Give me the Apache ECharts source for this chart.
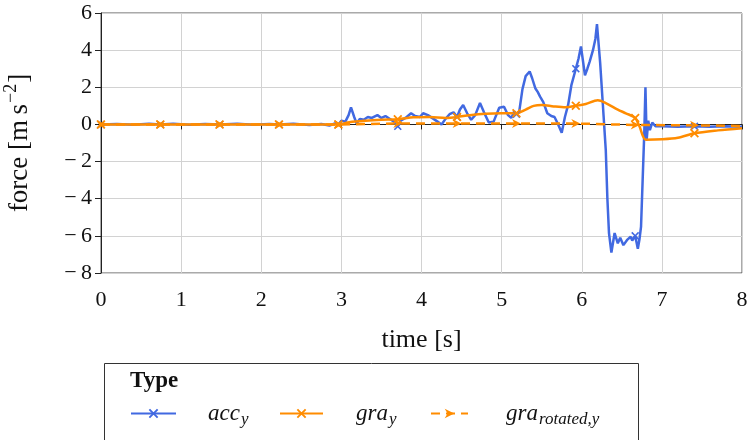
<!DOCTYPE html>
<html>
<head>
<meta charset="utf-8">
<script src="https://cdn.jsdelivr.net/npm/echarts@6/dist/echarts.min.js"></script>
<style>
  html, body { margin: 0; padding: 0; background: #fff; }
  #chart { width: 749px; height: 440px; }
</style>
</head>
<body>
<div id="chart"></div>
<script>
// Sample times where a marker is drawn on every series
const markerTimes = [0, 0.741, 1.481, 2.222, 2.963, 3.704, 4.444, 5.185, 5.926, 6.667, 7.407];

// acc_y : measured acceleration (y component)
const accTime = [0, 0.2, 0.4, 0.6, 0.741, 0.9, 1.1, 1.3, 1.481, 1.7, 1.9, 2.1, 2.222, 2.4, 2.6, 2.75, 2.85, 2.92, 2.963,
  3.0, 3.05, 3.09, 3.12, 3.16, 3.19, 3.23, 3.28, 3.33, 3.38, 3.45, 3.5, 3.55, 3.62, 3.67, 3.704, 3.74, 3.8, 3.87, 3.92, 3.98,
  4.02, 4.08, 4.15, 4.2, 4.25, 4.3, 4.35, 4.4, 4.444, 4.48, 4.52, 4.57, 4.62, 4.67, 4.73, 4.78, 4.84, 4.9, 4.97,
  5.03, 5.08, 5.12, 5.16, 5.185, 5.22, 5.26, 5.3, 5.35, 5.38, 5.42, 5.45, 5.48, 5.52, 5.57, 5.62, 5.66, 5.7, 5.75, 5.79,
  5.83, 5.87, 5.926, 5.96, 5.99, 6.04, 6.07, 6.1, 6.14, 6.17, 6.19, 6.23, 6.26, 6.3, 6.32, 6.34, 6.37, 6.41, 6.45,
  6.48, 6.52, 6.57, 6.61, 6.63, 6.667, 6.7, 6.72, 6.74, 6.76, 6.78, 6.795, 6.81, 6.83, 6.85, 6.88, 6.92, 7.0, 7.2,
  7.407, 7.6, 7.8, 8.0];
const accY = [0, 0.02, -0.02, 0.03, 0, 0.03, -0.02, 0.02, 0, 0.03, -0.02, 0.02, 0, 0.03, -0.03, 0.02, -0.06, 0.05, 0,
  0.2, 0.15, 0.5, 0.92, 0.4, 0.05, 0.3, 0.25, 0.4, 0.35, 0.5, 0.35, 0.45, 0.25, 0.1, -0.1, 0.2, 0.35, 0.6, 0.45, 0.4,
  0.6, 0.5, 0.3, 0.15, 0.0, 0.3, 0.55, 0.65, 0.4, 0.8, 1.05, 0.6, 0.25, 0.5, 1.15, 0.65, 0.1, 0.15, 0.9,
  0.95, 0.5, 0.35, 0.7, 0.55, 0.7, 1.9, 2.6, 2.85, 2.5, 1.95, 1.75, 1.5, 1.2, 0.6, 0.45, 0.4, 0.05, -0.45, 0.4,
  1.05, 2.1, 3.0, 3.55, 4.2, 2.65, 3.0, 3.4, 4.0, 4.6, 5.4, 3.3, 1.3, -1.4, -4.0, -5.85, -6.9, -5.85, -6.4,
  -6.1, -6.5, -6.2, -6.05, -6.25, -6.0, -6.7, -6.2, -5.5, -3.0, -0.5, 2.0, -0.85, 0.2, -0.3, 0.1, -0.1, -0.1, -0.12,
  -0.1, -0.12, -0.1, -0.12];

// gra_y : gravity estimate (y component)
const graTime = [0, 0.741, 1.481, 2.222, 2.963, 3.1, 3.3, 3.5, 3.704, 3.9, 4.1, 4.3, 4.444, 4.6, 4.8, 5.0, 5.185,
  5.3, 5.4, 5.5, 5.65, 5.8, 5.926, 6.05, 6.2, 6.3, 6.45, 6.55, 6.667, 6.72, 6.8, 7.0, 7.2, 7.407, 7.7, 8.0];
const graY = [0, 0, 0, 0, 0, 0.12, 0.2, 0.25, 0.28, 0.38, 0.4, 0.35, 0.4, 0.5, 0.58, 0.6, 0.6,
  0.8, 1.0, 1.05, 0.97, 0.92, 1.0, 1.1, 1.3, 1.15, 0.8, 0.6, 0.35, -0.1, -0.82, -0.8, -0.72, -0.48, -0.32, -0.2];

// gra_rotated,y : gravity rotated into the device frame
const rotTime = [0, 0.741, 1.481, 2.222, 2.963, 3.704, 4.444, 5.185, 5.926, 6.667, 7.407, 8.0];
const rotY = [0, 0, 0, 0, 0, 0.05, 0.05, 0.05, 0.05, -0.03, -0.05, -0.08];

// Axis ticks
const xTicks = [0, 1, 2, 3, 4, 5, 6, 7, 8];
const yTicks = [-8, -6, -4, -2, 0, 2, 4, 6];

const SERIF = '"Liberation Serif", "DejaVu Serif", serif';
const CROSS = 'path://M0,1.4 L1.4,0 L5,3.6 L8.6,0 L10,1.4 L6.4,5 L10,8.6 L8.6,10 L5,6.4 L1.4,10 L0,8.6 L3.6,5 Z';
const ARROW = 'path://M0,0 L10,5 L0,10 L3,5 Z';

const isMarker = t => markerTimes.some(m => Math.abs(m - t) < 1e-6);
const pairs = (ts, vs) => ts.map((t, i) => [t, vs[i]]);
const minus = v => String(v).replace('-', '\u2212\u2009');

const chart = echarts.init(document.getElementById('chart'), null, { renderer: 'canvas' });

// One legend block per series: icon, then an italic name with a subscript
function legendItem(name, left, width, gap, base, sub) {
  return {
    data: [name],
    left: left,
    top: 402,
    itemWidth: width,
    itemHeight: 12,
    padding: 0,
    selectedMode: false,
    formatter: () => '{b|' + base + '}{s|' + sub + '}',
    textStyle: {
      fontFamily: SERIF, fontSize: 23, color: '#111',
      rich: {
        b: { fontFamily: SERIF, fontSize: 23, fontStyle: 'italic', color: '#111', lineHeight: 30,
             verticalAlign: 'middle', padding: [0, 1, 0, gap] },
        s: { fontFamily: SERIF, fontSize: 17, fontStyle: 'italic', color: '#111', lineHeight: 30, verticalAlign: 'bottom' }
      }
    }
  };
}

chart.setOption({
  animation: false,
  backgroundColor: '#fff',
  grid: { left: 101, right: 7, top: 13, bottom: 167, show: true, borderColor: '#555', borderWidth: 1,
    outerBoundsMode: 'none', containLabel: false },
  xAxis: {
    type: 'value', min: xTicks[0], max: xTicks[xTicks.length - 1], interval: 1,
    name: 'time [s]', nameLocation: 'middle', nameGap: 54,
    nameTextStyle: { fontFamily: SERIF, fontSize: 26, color: '#111' },
    axisLine: { lineStyle: { color: '#222', width: 1 } },
    axisTick: { show: true, length: 5, lineStyle: { color: '#222' } },
    axisLabel: { fontFamily: SERIF, fontSize: 22, color: '#111', margin: 16, formatter: minus },
    splitLine: { show: true, lineStyle: { color: '#d2d2d2', width: 1 } }
  },
  yAxis: {
    type: 'value', min: yTicks[0], max: yTicks[yTicks.length - 1], interval: 2,
    name: '{a|force [m\u2009s}{p|\u22122}{a|]}', nameLocation: 'middle', nameGap: 63, nameRotate: 90,
    nameTextStyle: {
      fontFamily: SERIF, fontSize: 27, color: '#111',
      rich: {
        a: { fontFamily: SERIF, fontSize: 27, color: '#111', lineHeight: 36, verticalAlign: 'middle' },
        p: { fontFamily: SERIF, fontSize: 18, color: '#111', lineHeight: 36, verticalAlign: 'top', padding: [0, 1, 0, 1] }
      }
    },
    axisLine: { show: true, lineStyle: { color: '#222', width: 1 } },
    axisTick: { show: true, length: 6, lineStyle: { color: '#222' } },
    axisLabel: { fontFamily: SERIF, fontSize: 22, color: '#111', margin: 9, formatter: minus },
    splitLine: { show: true, lineStyle: { color: '#d2d2d2', width: 1 } }
  },
  legend: [
    legendItem('acc_y', 130, 45, 27, 'acc', 'y'),
    legendItem('gra_y', 279, 43, 28, 'gra', 'y'),
    legendItem('gra_rotated,y', 430, 37, 33, 'gra', 'rotated,y')
  ],
  graphic: [
    { type: 'rect', shape: { x: 104.5, y: 363.5, width: 534, height: 100 },
      style: { fill: 'none', stroke: '#333', lineWidth: 1 }, silent: true },
    { type: 'text', left: 130, top: 370,
      style: { text: 'Type', font: 'bold 23px ' + SERIF, fill: '#111' } }
  ],
  series: [
    {
      name: 'acc_y', type: 'line', data: pairs(accTime, accY),
      color: '#4169e1', showAllSymbol: true, symbol: CROSS,
      symbolSize: (v) => isMarker(v[0]) ? 8 : 0,
      lineStyle: { color: '#4169e1', width: 2.5 }, itemStyle: { color: '#4169e1' }
    },
    {
      name: 'gra_y', type: 'line', data: pairs(graTime, graY), smooth: 0.3,
      color: '#ff8c00', showAllSymbol: true, symbol: CROSS,
      symbolSize: (v) => isMarker(v[0]) ? 9 : 0,
      lineStyle: { color: '#ff8c00', width: 2.5 }, itemStyle: { color: '#ff8c00' }
    },
    {
      name: 'gra_rotated,y', type: 'line', data: pairs(rotTime, rotY),
      color: '#ff8c00', showAllSymbol: true, symbol: ARROW,
      symbolSize: (v) => isMarker(v[0]) ? 9 : 0,
      lineStyle: { color: '#ff8c00', width: 2.5, type: [9, 6] }, itemStyle: { color: '#ff8c00' }
    }
  ]
});
</script>
</body>
</html>
